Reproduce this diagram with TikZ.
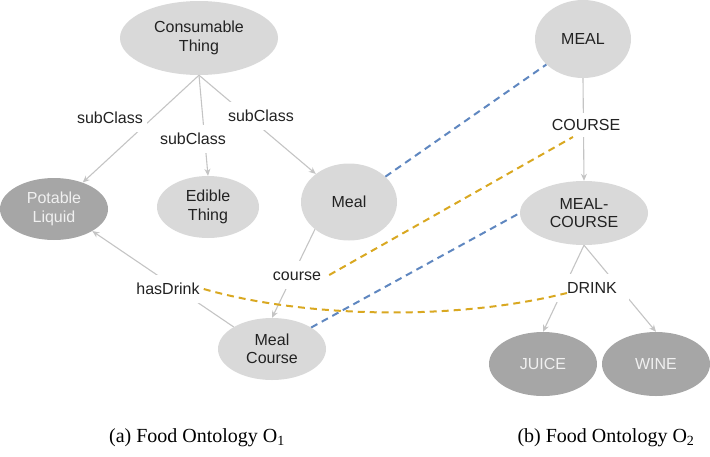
\documentclass[tikz,border=0pt]{standalone}
\usepackage{fontspec}
\setmainfont{Liberation Sans}
\newfontfamily\capfont{Liberation Serif}
\usetikzlibrary{shapes.geometric,arrows.meta}
\definecolor{lightnode}{HTML}{D9D9D9}
\definecolor{darknode}{HTML}{A6A6A6}
\definecolor{edgegray}{HTML}{C4C4C4}
\definecolor{mapblue}{HTML}{5F87C0}
\definecolor{mapgold}{HTML}{D9A821}
\definecolor{txt}{HTML}{222222}
\tikzset{
  concept/.style={ellipse, fill=lightnode, draw=none, inner sep=0pt, align=center,
    text=txt, font=\fontsize{16}{18.5}\selectfont},
  darkconcept/.style={concept, fill=darknode, text=white!94!black},
  lbl/.style={fill=white, text=txt, inner xsep=4pt, inner ysep=8pt,
    text height=11.5pt, text depth=0pt, font=\fontsize{16}{18.5}\selectfont},
  rel/.style={draw=edgegray, line width=1.1pt, -{Stealth[length=7pt,width=6pt]}},
  mapping/.style={line width=2pt, dash pattern=on 7pt off 5pt},
  caption/.style={font=\capfont\fontsize{20}{24}\selectfont, text=black}
}
\begin{document}
\begin{tikzpicture}[x=1pt,y=-1pt]
\useasboundingbox (0,0) rectangle (710,456);
% ontology O1
\node[concept, minimum width=158pt, minimum height=74pt] (cons) at (199,38) {Consumable\\Thing};
\node[darkconcept, minimum width=108pt, minimum height=62pt] (pot) at (54,209) {Potable\\Liquid};
\node[concept, minimum width=102pt, minimum height=62pt] (edible) at (208,207) {Edible\\Thing};
\node[concept, minimum width=96pt, minimum height=77pt] (meal) at (349,202) {Meal};
\node[concept, minimum width=108pt, minimum height=62pt] (mcourse) at (272,349) {Meal\\Course};
% ontology O2
\node[concept, minimum width=96pt, minimum height=78pt] (MEAL) at (583,39) {MEAL};
\node[concept, minimum width=128pt, minimum height=64pt] (MC) at (584,213) {MEAL-\\COURSE};
\node[darkconcept, minimum width=108pt, minimum height=64pt] (juice) at (543,364) {JUICE};
\node[darkconcept, minimum width=108pt, minimum height=64pt] (wine) at (656,364) {WINE};

% relations (drawn first, labels cover them)
\draw[rel] (cons.south) -- (pot);
\draw[rel] (cons.south) -- (edible.north);
\draw[rel] (cons.south) -- (meal);
\draw[rel] (meal.south west) -- (mcourse.north);
\draw[rel] (mcourse.north west) -- (pot.south east);
\draw[rel] (MEAL.south) -- (MC.north);
\draw[rel] (MC.south) -- (juice.north);
\draw[rel] (MC.south) -- (wine.north);

% labels
\node[lbl] (sc1) at (110,118) {subClass};
\node[lbl] (sc2) at (193,139) {subClass};
\node[lbl] (sc3) at (261,116) {subClass};
\node[lbl] (course) at (297,275) {course};
\node[lbl] (hasdrink) at (168,289) {hasDrink};
\node[lbl, inner ysep=6pt] (COURSE) at (586,125) {COURSE};
\node[lbl, inner xsep=12pt] (DRINK) at (592,288) {DRINK};

% mapping coordinates
\coordinate (oc1) at ([xshift=4pt]course.east);
\coordinate (oc2) at ([xshift=-13pt]COURSE.south);
\coordinate (od1) at (hasdrink.east);
\coordinate (od2) at ([xshift=12pt,yshift=-5pt]DRINK.west);

% mappings
\draw[mapping, mapblue] (meal) -- (MEAL);
\draw[mapping, mapblue] (mcourse) -- (MC.west);
\draw[mapping, mapgold] (oc1) -- (oc2);
\draw[mapping, mapgold] (od1) .. controls (305,318) and (455,321) .. (od2);

% captions
\node[caption] (capa) at (197,438) {(a) Food Ontology O\textsubscript{1}};
\node[caption] (capb) at (606,438) {(b) Food Ontology O\textsubscript{2}};
\end{tikzpicture}
\end{document}
